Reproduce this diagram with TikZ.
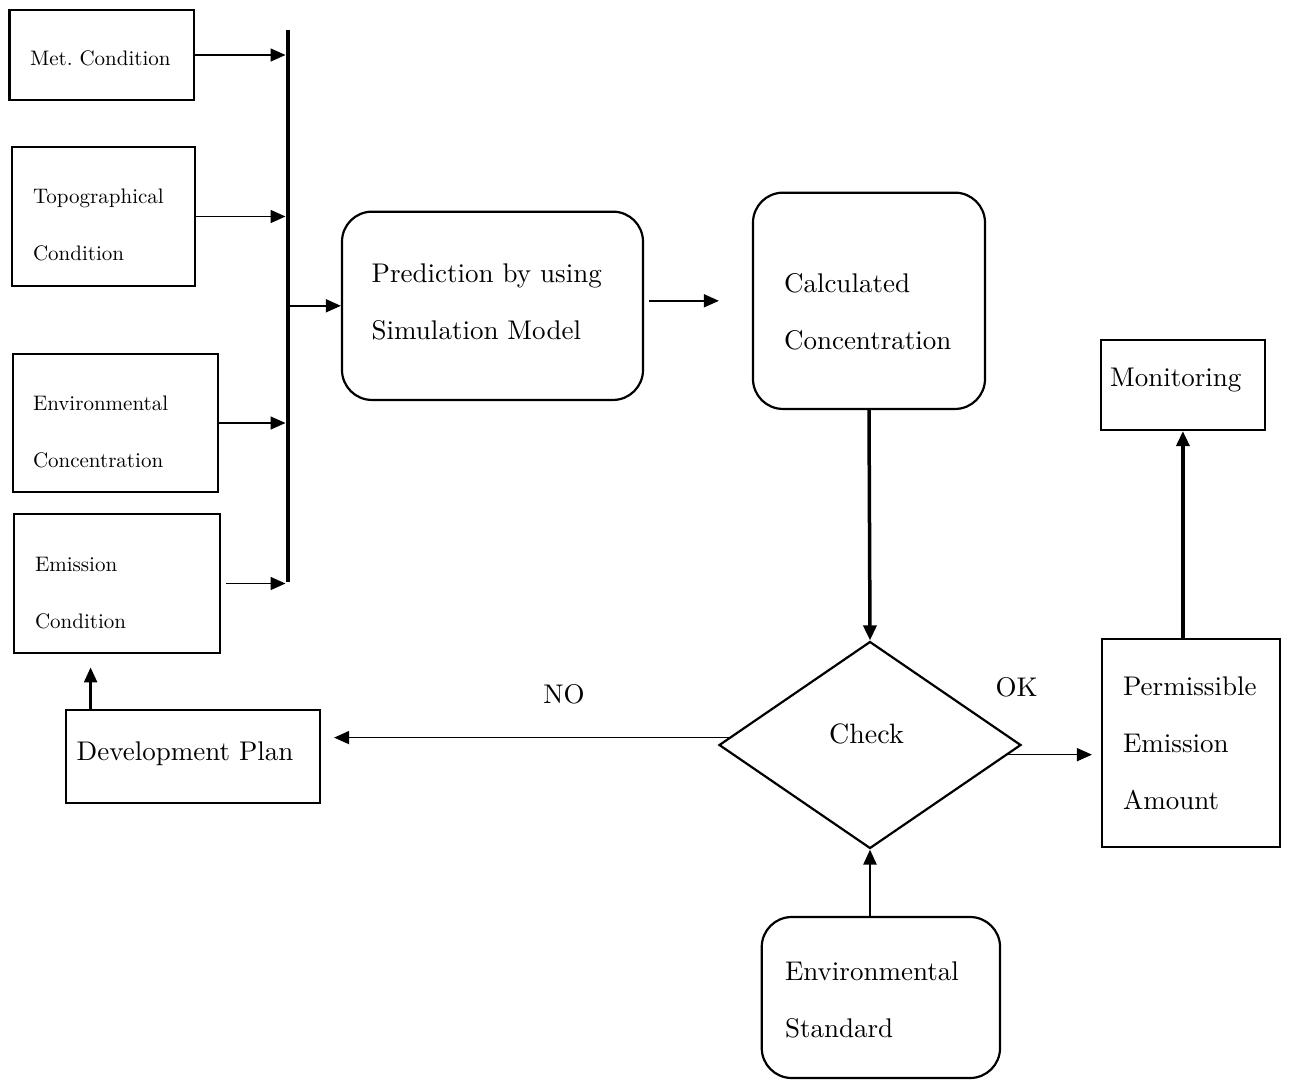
\documentclass[tikz,border=0pt]{standalone}
\usepackage{fontspec}
\setmainfont{lmroman10-regular}[Extension=.otf, BoldFont=lmroman10-bold, ItalicFont=lmroman10-italic]
\usetikzlibrary{shapes.geometric,arrows.meta}
\begin{document}
\begin{tikzpicture}[x=1pt,y=-1pt,
  sbox/.style={draw, line width=2.2pt, rectangle, align=left, inner ysep=0pt,
    font=\fontsize{21}{57}\selectfont},
  lbox/.style={draw, line width=2.2pt, rectangle, align=left, inner ysep=0pt,
    font=\fontsize{27}{57}\selectfont},
  rbox/.style={lbox, rounded corners=30pt},
  lbl/.style={inner sep=0pt, font=\fontsize{27}{32}\selectfont},
  arr/.style={line width=1.6pt, -{Triangle[length=15pt,width=13pt]}},
  arrmid/.style={line width=2.4pt, -{Triangle[length=15pt,width=13pt]}},
  arrthk/.style={line width=3.5pt, -{Triangle[length=15pt,width=13pt]}}
]
\path[use as bounding box, fill=white] (0,0) rectangle (1290,1080);

% input boxes
\node[sbox, minimum width=184.8pt, minimum height=90pt, inner xsep=20.5pt, text width=143.8pt]
  (met) at (101.9,55) {\rule{0pt}{21.4pt}\mbox{Met.\ Condition}};
\node[sbox, minimum width=183pt, minimum height=139pt, inner xsep=21pt, text width=141pt]
  (topo) at (103.5,216.5) {\rule{0pt}{32pt}Topographical\\Condition};
\node[sbox, minimum width=205pt, minimum height=138pt, inner xsep=20pt, text width=165pt]
  (envc) at (115.5,423) {\rule{0pt}{33pt}Environmental\\Concentration};
\node[sbox, minimum width=206pt, minimum height=139pt, inner xsep=21pt, text width=164pt]
  (emis) at (117,583.5) {\rule{0pt}{32.7pt}Emission\\Condition};

% bus
\coordinate (bt) at (287.5,30);
\coordinate (bb) at (287.5,582);
\draw[line width=4pt] (bt) -- (bb);

% main boxes
\node[rbox, minimum width=301pt, minimum height=188.3pt, inner xsep=29.7pt, text width=241.6pt]
  (pred) at (492.5,305.8) {Prediction by using\\Simulation Model\rule[-9.3pt]{0pt}{9.3pt}};
\node[rbox, minimum width=232pt, minimum height=216.3pt, inner xsep=31pt, text width=170pt]
  (calc) at (869,300.8) {\rule{0pt}{40pt}Calculated\\Concentration};
\node[draw, diamond, line width=2.2pt, minimum width=302pt, minimum height=207pt, inner sep=0pt,
  font=\fontsize{28}{34}\selectfont]
  (check) at (870,745) {Check\rule[-22.8pt]{0pt}{22.8pt}\hspace*{7pt}};
\node[lbox, minimum width=254pt, minimum height=93pt, inner xsep=10.7pt, text width=232.6pt]
  (dev) at (193,756.5) {Development Plan\rule[-11.7pt]{0pt}{11.7pt}};
\node[lbox, minimum width=178.3pt, minimum height=207.7pt, inner xsep=21.3pt, text width=135.7pt]
  (perm) at (1190.9,742.9) {\rule{0pt}{20.2pt}Permissible\\Emission\\Amount};
\node[lbox, minimum width=164.3pt, minimum height=90pt, inner xsep=9.3pt, text width=145.7pt]
  (mon) at (1182.9,385) {Monitoring\rule[-15pt]{0pt}{15pt}};
\node[rbox, minimum width=238.3pt, minimum height=161pt, inner xsep=23.3pt, text width=191.7pt]
  (envs) at (880.9,997.5) {\rule{0pt}{23.3pt}Environmental\\Standard};

% labels
\node[lbl, anchor=base] (no) at (564,703.3) {NO};
\node[lbl, anchor=base] (ok) at (1016.5,696.7) {OK};

% connectors into bus
\draw[arr, shorten >=2pt] (met.east) -- (met.east -| bt);
\draw[arr, shorten >=2pt] (topo.east) -- (topo.east -| bt);
\draw[arr, shorten >=2pt] (envc.east) -- (envc.east -| bt);
\draw[arr, shorten <=5pt, shorten >=2pt] (emis.east) -- (emis.east -| bt);

% bus to prediction, prediction to calculated
\draw[arr] (pred.west -| bt) -- (pred.west);
\draw[arr, shorten <=5pt, shorten >=33pt] (calc.west -| pred.east) -- (calc.west);

% calculated to check, standard to check
\draw[arrthk] (calc.south) -- (check.north);
\draw[arrmid] (envs.north -| check.south) -- (check.south);

% check outputs
\draw[arr, shorten >=8.7pt] (check.-4.6) -- (check.-4.6 -| perm.west);
\draw[arr, shorten >=13pt] (check.177.7) -- (check.177.7 -| dev.east);

% permissible to monitoring
\draw[arrthk] (perm.north -| mon.south) -- (mon.south);

% development plan to emission condition
\coordinate (du) at ([xshift=25.7pt]dev.north west);
\draw[arrmid, shorten >=13.3pt] (du) -- (du |- emis.south);
\end{tikzpicture}
\end{document}
